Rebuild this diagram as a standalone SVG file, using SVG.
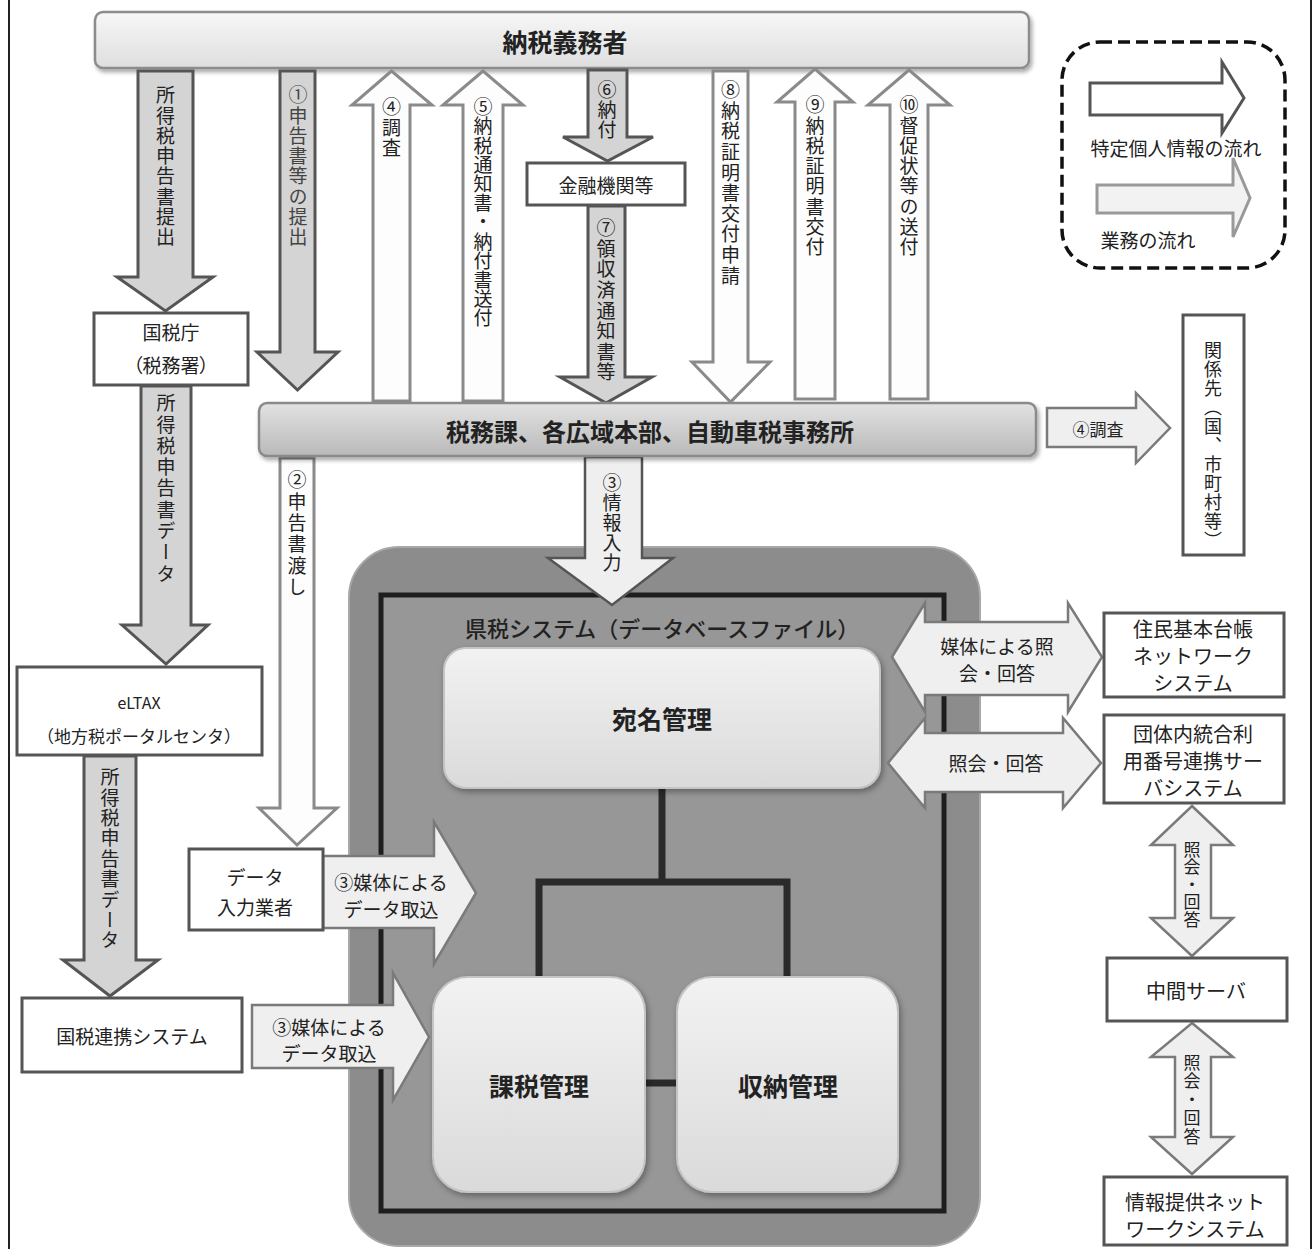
<svg xmlns="http://www.w3.org/2000/svg" width="1316" height="1249" viewBox="0 0 1316 1249">
<defs>
<linearGradient id="gTop" x1="0" y1="0" x2="0" y2="1"><stop offset="0" stop-color="#f7f7f7"/><stop offset="1" stop-color="#dedede"/></linearGradient>
<linearGradient id="gMid" x1="0" y1="0" x2="0" y2="1"><stop offset="0" stop-color="#e2e2e2"/><stop offset="1" stop-color="#b9b9b9"/></linearGradient>
<linearGradient id="gMod" x1="0" y1="0" x2="0" y2="1"><stop offset="0" stop-color="#f2f2f2"/><stop offset="1" stop-color="#dadada"/></linearGradient>
<filter id="sh" x="-5%" y="-20%" width="110%" height="150%"><feDropShadow dx="2" dy="3" stdDeviation="2" flood-color="#000" flood-opacity="0.35"/></filter>
<filter id="sh2" x="-10%" y="-10%" width="120%" height="120%"><feDropShadow dx="2" dy="3" stdDeviation="3" flood-color="#000" flood-opacity="0.35"/></filter>
</defs>
<style>
text{font-family:"Noto Sans CJK JP","Noto Sans CJK SC",sans-serif;fill:#222;}
.h{text-anchor:middle;dominant-baseline:central;}
.v{writing-mode:vertical-rl;text-anchor:start;}
.b{font-weight:bold;}
.box{fill:#fff;stroke:#555;stroke-width:3;}
.ga{fill:#d4d4d4;stroke:#555;stroke-width:3;stroke-linejoin:miter;}
.wa{fill:#fdfdfd;stroke:#8a8a8a;stroke-width:3;}
.la{fill:#efefef;stroke:#7a7a7a;stroke-width:2.5;}
.con{fill:none;stroke:#2a2a2a;stroke-width:7;}
.mod{fill:url(#gMod);stroke:#c4c4c4;stroke-width:2;filter:url(#sh2);}
</style>
<rect x="0" y="0" width="1316" height="1249" fill="#fff"/>
<line x1="9" y1="0" x2="9" y2="1249" stroke="#222" stroke-width="2"/>
<line x1="1311" y1="0" x2="1311" y2="1249" stroke="#222" stroke-width="2"/>

<!-- System block -->
<g id="system">
<rect x="349" y="547" width="631" height="699" rx="50" fill="#8c8c8c" stroke="#a8a8a8" stroke-width="2"/>
<rect x="381" y="595" width="563" height="616" fill="#979797" stroke="#1e1e1e" stroke-width="5"/>
<text x="465" y="627" font-size="22" dominant-baseline="central" style="font-weight:500">県税システム（データベースファイル）</text>
</g>
<g id="connectors">
<polyline class="con" points="662,788 662,882"/>
<polyline class="con" points="539,977 539,882 787,882 787,977"/>
<line class="con" x1="645" y1="1083" x2="677" y2="1083"/>
</g>
<g id="n-atena"><rect class="mod" x="444" y="648" width="436" height="140" rx="22"/><text class="h b" x="662" y="718" font-size="25">宛名管理</text></g>
<g id="n-kazei"><rect class="mod" x="433" y="977" width="212" height="215" rx="35"/><text class="h b" x="539" y="1085" font-size="25">課税管理</text></g>
<g id="n-shuno"><rect class="mod" x="677" y="977" width="221" height="215" rx="35"/><text class="h b" x="788" y="1085" font-size="25">収納管理</text></g>

<!-- Top bar -->
<g id="n-nozei"><rect x="95" y="12" width="934" height="56" rx="8" fill="url(#gTop)" stroke="#8c8c8c" stroke-width="2.5" filter="url(#sh)"/><text class="h b" x="565" y="41" font-size="25">納税義務者</text></g>

<!-- Flows -->
<g id="flows">
<polygon class="ga" points="138,71 193,71 193,277 213,277 165.5,311 117,277 138,277"/>
<text class="v" x="165.5" y="85.5" font-size="19" letter-spacing="1.3">所得税申告書提出</text>
<polygon class="ga" points="280,71 315,71 315,352 338,352 297.5,390 257,352 280,352"/>
<text class="v" x="298" y="85.5" font-size="19" letter-spacing="1.3" style="fill:#444">①申告書等の提出</text>
<polygon class="wa" points="373,401 410,401 410,105 432,105 391.5,71 352,105 373,105"/>
<text class="v" x="391.5" y="97.5" font-size="19" letter-spacing="1.5">④調査</text>
<polygon class="wa" points="463,401 503,401 503,105 523,105 483,71 443,105 463,105"/>
<text class="v" x="483" y="97.5" font-size="19" letter-spacing="0.2">⑤納税通知書・納付書送付</text>
<polygon class="ga" points="588,70 627,70 627,137 653,137 607.5,161 563,137 588,137"/>
<text class="v" x="607" y="80.5" font-size="19" letter-spacing="1">⑥納付</text>
<polygon class="ga" points="588,206 625,206 625,377 652,377 606,403 560,377 588,377"/>
<text class="v" x="606" y="218.5" font-size="19" letter-spacing="1.6">⑦領収済通知書等</text>
<polygon class="wa" points="713,71 748,71 748,362 770,362 730.5,402 692,362 713,362"/>
<text class="v" x="730.5" y="80.5" font-size="19" letter-spacing="1.6">⑧納税証明書交付申請</text>
<polygon class="wa" points="795,399 835,399 835,102 853,102 815,69 777,102 795,102"/>
<text class="v" x="815" y="95.5" font-size="19" letter-spacing="1.3">⑨納税証明書交付</text>
<polygon class="wa" points="890,399 928,399 928,105 950,105 909,70 868,105 890,105"/>
<text class="v" x="909" y="95.5" font-size="19" letter-spacing="1.3">⑩督促状等の送付</text>

<polygon class="ga" points="141,386 191,386 191,625 208,625 166,664 122,625 141,625"/>
<text class="v" x="166" y="393.5" font-size="19" letter-spacing="2.3">所得税申告書データ</text>
<polygon class="ga" points="84,756 136,756 136,960 158,960 110,996 63,960 84,960"/>
<text class="v" x="110" y="767.5" font-size="19" letter-spacing="1.4">所得税申告書データ</text>
<polygon class="wa" points="280,458 314,458 314,808 337,808 297,845 259,808 280,808"/>
<text class="v" x="297" y="470.5" font-size="19" letter-spacing="2.4">②申告書渡し</text>

<polygon class="la" points="585,457 642,457 642,558 673,558 612,605 548,558 585,558" style="stroke:#555"/>
<text class="v" x="612" y="473.5" font-size="19" letter-spacing="1">③情報入力</text>

<polygon class="la" points="323,856 434,856 434,822 476,893 434,964 434,928 323,928"/>
<text class="h" x="391" y="881" font-size="19">③媒体による</text>
<text class="h" x="391" y="908" font-size="19">データ取込</text>
<polygon class="la" points="252,1005 393,1005 393,973 429,1037 393,1100 393,1068 252,1068"/>
<text class="h" x="329" y="1026" font-size="19">③媒体による</text>
<text class="h" x="329" y="1052" font-size="19">データ取込</text>

<polygon class="la" points="1047,408 1136,408 1136,393 1170,428 1136,463 1136,447 1047,447"/>
<text class="h" x="1098" y="428" font-size="17">④調査</text>

<polygon class="la" points="892,657 925,603 925,622 1068,622 1068,603 1102,657 1068,712 1068,695 925,695 925,712"/>
<text class="h" x="997" y="645" font-size="19">媒体による照</text>
<text class="h" x="997" y="672" font-size="19">会・回答</text>
<polygon class="la" points="888,763 925,718 925,733 1063,733 1063,718 1101,763 1063,808 1063,792 925,792 925,808"/>
<text class="h" x="996" y="762" font-size="19">照会・回答</text>

<polygon class="la" points="1192,806 1233,845 1211,845 1211,918 1233,918 1192,956 1151,918 1175,918 1175,845 1151,845"/>
<text class="v" x="1192" y="841" font-size="17" letter-spacing="0.5">照会・回答</text>
<polygon class="la" points="1192,1023 1233,1057 1211,1057 1211,1137 1233,1137 1192,1174 1151,1137 1175,1137 1175,1057 1151,1057"/>
<text class="v" x="1192" y="1054" font-size="17" letter-spacing="1.5">照会・回答</text>
</g>

<!-- Middle bar -->
<g id="n-zeimu"><rect x="259" y="403" width="777" height="53" rx="8" fill="url(#gMid)" stroke="#8a8a8a" stroke-width="2.5" filter="url(#sh)"/><text class="h b" x="650" y="430" font-size="24">税務課、各広域本部、自動車税事務所</text></g>

<g id="n-kinyu"><rect class="box" x="527" y="163" width="158" height="42"/><text class="h" x="606" y="184" font-size="19">金融機関等</text></g>
<g id="n-kokuzeicho"><rect class="box" x="94" y="313" width="154" height="72"/><text class="h" x="171" y="331" font-size="19">国税庁</text><text class="h" x="171" y="364" font-size="19" style="font-feature-settings:'palt'">（税務署）</text></g>
<g id="n-eltax"><rect class="box" x="17" y="667" width="245" height="88"/><text class="h" x="139" y="702" font-size="16">eLTAX</text><text class="h" x="139" y="735" font-size="17">（地方税ポータルセンタ）</text></g>
<g id="n-kokuzeirenkei"><rect class="box" x="22" y="998" width="220" height="74"/><text class="h" x="132" y="1035" font-size="19">国税連携システム</text></g>
<g id="n-datainput"><rect class="box" x="189" y="849" width="134" height="81"/><text class="h" x="255" y="876" font-size="19">データ</text><text class="h" x="255" y="906" font-size="19">入力業者</text></g>
<g id="n-kankei"><rect class="box" x="1183" y="315" width="61" height="240"/><text class="v" x="1213" y="341" font-size="18" letter-spacing="1">関係先（国、市町村等）</text></g>
<g id="n-juki"><rect class="box" x="1104" y="613" width="180" height="84"/><text class="h" x="1193" y="628" font-size="20">住民基本台帳</text><text class="h" x="1193" y="655" font-size="20">ネットワーク</text><text class="h" x="1193" y="682" font-size="20">システム</text></g>
<g id="n-dantai"><rect class="box" x="1104" y="715" width="180" height="88"/><text class="h" x="1193" y="733" font-size="20">団体内統合利</text><text class="h" x="1193" y="760" font-size="20">用番号連携サー</text><text class="h" x="1193" y="787" font-size="20">バシステム</text></g>
<g id="n-chukan"><rect class="box" x="1107" y="958" width="180" height="63"/><text class="h" x="1196" y="990" font-size="20">中間サーバ</text></g>
<g id="n-joho"><rect class="box" x="1104" y="1177" width="183" height="68"/><text class="h" x="1195" y="1201" font-size="20">情報提供ネット</text><text class="h" x="1195" y="1228" font-size="20">ワークシステム</text></g>

<!-- Legend -->
<g id="legend">
<rect x="1062" y="42" width="223" height="226" rx="38" fill="none" stroke="#111" stroke-width="3.5" stroke-dasharray="12,6"/>
<polygon points="1090,83 1222,83 1222,62 1244,98 1222,133 1222,115 1090,115" fill="#fff" stroke="#555" stroke-width="3"/>
<text class="h" x="1176" y="147" font-size="19">特定個人情報の流れ</text>
<polygon points="1097,185 1233,185 1233,158 1250,198 1233,237 1233,213 1097,213" fill="#f2f2f2" stroke="#999" stroke-width="3"/>
<text class="h" x="1148" y="239" font-size="19">業務の流れ</text>
</g>
</svg>
